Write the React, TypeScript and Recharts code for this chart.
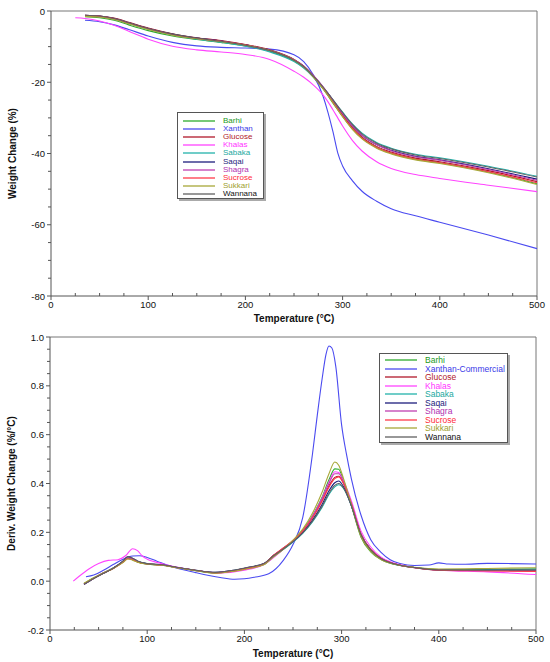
import React from "react";
import { LineChart, Line, XAxis, YAxis, Legend, ReferenceLine } from "recharts";

// ---- shared ----
const NAMES = ["Barhi", "Xanthan", "Glucose", "Khalas", "Sabaka", "Saqai", "Shagra", "Sucrose", "Sukkari", "Wannana"];
const DTG_NAMES = ["Barhi", "Xanthan-Commercial", "Glucose", "Khalas", "Sabaka", "Saqai", "Shagra", "Sucrose", "Sukkari", "Wannana"];
const COLORS = ["#2eaa2e", "#4a4af0", "#b0182a", "#ff44ff", "#22b2aa", "#1c1c7c", "#c040b0", "#ff3a4a", "#a8a838", "#606060"];
const TEXT_COLORS = ["#229922", "#3a3ae8", "#b0182a", "#ff33ff", "#1aa8a0", "#1c1c7c", "#b030b0", "#ff2a3a", "#a0a030", "#111111"];

const X_TICKS = [0, 25, 50, 75, 100, 125, 150, 175, 200, 225, 250, 275, 300, 325, 350, 375, 400, 425, 450, 475, 500];
const TGA_Y_TICKS = [-80, -75, -70, -65, -60, -55, -50, -45, -40, -35, -30, -25, -20, -15, -10, -5, 0];
const DTG_Y_TICKS = [-0.2, -0.15, -0.1, -0.05, 0, 0.05, 0.1, 0.15, 0.2, 0.25, 0.3, 0.35, 0.4, 0.45, 0.5, 0.55, 0.6, 0.65, 0.7, 0.75, 0.8, 0.85, 0.9, 0.95, 1.0];
const DTG_Y_MAJOR = [-0.2, 0, 0.2, 0.4, 0.6, 0.8, 1.0];

// ---- TGA (weight change, %) ----
const TGA_T = [25, 35, 50, 65, 80, 100, 125, 150, 175, 200, 225, 250, 260, 270, 280, 285, 290, 295, 300, 310, 320, 335, 350, 375, 400, 450, 500];
const TGA_BARHI = [null, -1.6, -1.9, -2.6, -3.9, -5.5, -7.0, -8.0, -8.8, -9.8, -11.3, -14.0, -15.9, -18.6, -21.9, -23.8, -25.8, -27.7, -29.6, -33.0, -35.7, -38.3, -39.9, -41.6, -42.6, -45.2, -48.5];
const TGA_XANTHAN = [null, -2.6, -3.0, -3.9, -5.2, -7.0, -8.8, -9.8, -10.2, -10.4, -10.7, -12.3, -14.2, -18.0, -24.0, -28.5, -33.8, -39.8, -43.5, -47.6, -50.6, -53.4, -55.5, -57.5, -59.3, -62.9, -66.7];
const TGA_GLUCOSE = [null, -1.2, -1.4, -2.0, -3.2, -4.8, -6.4, -7.5, -8.3, -9.4, -10.9, -13.6, -15.5, -18.3, -21.6, -23.5, -25.4, -27.3, -29.2, -32.7, -35.4, -38.0, -39.6, -41.3, -42.3, -44.8, -47.9];
const TGA_KHALAS = [-1.9, -2.1, -2.8, -4.0, -5.7, -7.9, -9.9, -10.9, -11.5, -12.2, -13.6, -16.9, -18.6, -20.8, -23.6, -25.5, -27.7, -30.0, -32.3, -36.3, -39.3, -42.3, -44.2, -45.9, -47.0, -48.9, -50.7];
const TGA_SABAKA = [null, -1.4, -1.6, -2.3, -3.5, -5.1, -6.7, -7.9, -8.8, -9.9, -11.5, -14.2, -16.0, -18.5, -21.5, -23.1, -24.9, -26.7, -28.4, -31.7, -34.3, -36.9, -38.5, -40.2, -41.2, -43.6, -46.4];
const TGA_SAQAI = [null, -1.2, -1.4, -2.1, -3.3, -4.9, -6.5, -7.6, -8.4, -9.5, -11.0, -13.7, -15.5, -18.2, -21.4, -23.2, -25.1, -27.0, -28.8, -32.2, -34.9, -37.5, -39.1, -40.8, -41.8, -44.3, -47.2];
const TGA_SHAGRA = [null, -1.3, -1.5, -2.2, -3.4, -5.0, -6.6, -7.7, -8.5, -9.6, -11.1, -13.7, -15.5, -18.1, -21.3, -23.1, -25.0, -26.9, -28.8, -32.2, -34.9, -37.5, -39.2, -40.9, -41.9, -44.5, -47.5];
const TGA_SUCROSE = [null, -1.3, -1.5, -2.2, -3.4, -5.0, -6.6, -7.7, -8.5, -9.5, -11.0, -13.7, -15.6, -18.4, -21.7, -23.6, -25.6, -27.6, -29.5, -33.0, -35.7, -38.3, -39.9, -41.6, -42.6, -45.1, -48.2];
const TGA_SUKKARI = [null, -1.5, -1.7, -2.4, -3.6, -5.2, -6.8, -7.8, -8.6, -9.6, -11.1, -13.8, -15.7, -18.5, -21.8, -23.7, -25.7, -27.7, -29.7, -33.2, -35.9, -38.5, -40.1, -41.8, -42.8, -45.4, -48.7];
const TGA_WANNANA = [null, -1.2, -1.4, -2.1, -3.3, -4.9, -6.5, -7.6, -8.5, -9.6, -11.1, -13.8, -15.6, -18.3, -21.4, -23.1, -24.9, -26.7, -28.5, -31.8, -34.5, -37.1, -38.7, -40.4, -41.4, -43.8, -46.6];
const TGA_SERIES = [TGA_BARHI, TGA_XANTHAN, TGA_GLUCOSE, TGA_KHALAS, TGA_SABAKA, TGA_SAQAI, TGA_SHAGRA, TGA_SUCROSE, TGA_SUKKARI, TGA_WANNANA];

// ---- DTG (deriv. weight change, %/°C) ----
const DTG_T = [35, 45, 55, 65, 75, 80, 85, 90, 100, 115, 130, 150, 170, 190, 205, 220, 230, 240, 250, 260, 270, 280, 287, 293, 297, 302, 310, 320, 330, 340, 355, 375, 400, 450, 500];
const DTG_BARHI = [-0.01, 0.014, 0.034, 0.054, 0.078, 0.094, 0.088, 0.079, 0.07, 0.065, 0.056, 0.043, 0.034, 0.042, 0.053, 0.068, 0.1, 0.13, 0.165, 0.208, 0.268, 0.345, 0.415, 0.46, 0.458, 0.41, 0.31, 0.18, 0.12, 0.09, 0.068, 0.056, 0.048, 0.048, 0.05];
const DTG_GLUCOSE = [-0.012, 0.012, 0.033, 0.052, 0.08, 0.097, 0.09, 0.08, 0.071, 0.066, 0.056, 0.044, 0.034, 0.043, 0.055, 0.07, 0.105, 0.135, 0.165, 0.205, 0.26, 0.33, 0.39, 0.425, 0.43, 0.4, 0.315, 0.19, 0.128, 0.094, 0.07, 0.056, 0.046, 0.044, 0.043];
const DTG_SABAKA = [-0.012, 0.012, 0.033, 0.054, 0.08, 0.098, 0.092, 0.082, 0.072, 0.066, 0.056, 0.044, 0.035, 0.045, 0.057, 0.071, 0.103, 0.13, 0.16, 0.196, 0.243, 0.303, 0.355, 0.386, 0.395, 0.38, 0.31, 0.19, 0.128, 0.093, 0.069, 0.055, 0.046, 0.047, 0.05];
const DTG_SAQAI = [-0.014, 0.011, 0.032, 0.053, 0.082, 0.1, 0.093, 0.082, 0.072, 0.067, 0.057, 0.045, 0.036, 0.045, 0.057, 0.072, 0.105, 0.133, 0.163, 0.2, 0.25, 0.315, 0.37, 0.403, 0.41, 0.387, 0.31, 0.19, 0.128, 0.094, 0.07, 0.056, 0.046, 0.044, 0.044];
const DTG_SHAGRA = [-0.012, 0.012, 0.033, 0.053, 0.079, 0.096, 0.09, 0.08, 0.071, 0.066, 0.056, 0.044, 0.034, 0.043, 0.055, 0.07, 0.105, 0.135, 0.165, 0.206, 0.264, 0.338, 0.4, 0.44, 0.44, 0.405, 0.318, 0.19, 0.128, 0.094, 0.07, 0.055, 0.046, 0.043, 0.042];
const DTG_SUCROSE = [-0.011, 0.012, 0.033, 0.052, 0.077, 0.092, 0.088, 0.079, 0.07, 0.066, 0.056, 0.044, 0.034, 0.042, 0.054, 0.07, 0.106, 0.136, 0.167, 0.206, 0.26, 0.328, 0.385, 0.42, 0.427, 0.4, 0.318, 0.192, 0.13, 0.095, 0.07, 0.055, 0.045, 0.042, 0.04];
const DTG_SUKKARI = [-0.008, 0.014, 0.033, 0.052, 0.076, 0.091, 0.086, 0.078, 0.07, 0.065, 0.055, 0.043, 0.033, 0.041, 0.052, 0.067, 0.1, 0.13, 0.168, 0.213, 0.278, 0.365, 0.44, 0.488, 0.475, 0.42, 0.315, 0.182, 0.122, 0.09, 0.069, 0.057, 0.05, 0.052, 0.055];
const DTG_WANNANA = [-0.013, 0.011, 0.032, 0.053, 0.082, 0.101, 0.094, 0.083, 0.072, 0.067, 0.057, 0.045, 0.036, 0.046, 0.058, 0.072, 0.104, 0.132, 0.162, 0.198, 0.246, 0.308, 0.36, 0.392, 0.4, 0.382, 0.31, 0.19, 0.128, 0.094, 0.07, 0.056, 0.046, 0.045, 0.046];

const XAN_T = [37, 45, 55, 65, 75, 85, 92, 100, 110, 125, 150, 175, 190, 200, 210, 225, 240, 250, 260, 270, 275, 280, 284, 287, 290, 294, 300, 305, 310, 320, 330, 340, 350, 360, 375, 390, 400, 410, 425, 450, 475, 500];
const DTG_XANTHAN = [0.018, 0.025, 0.045, 0.068, 0.09, 0.103, 0.104, 0.097, 0.082, 0.06, 0.035, 0.015, 0.008, 0.01, 0.016, 0.03, 0.085, 0.15, 0.26, 0.52, 0.68, 0.83, 0.93, 0.963, 0.955, 0.88, 0.64, 0.52, 0.42, 0.27, 0.17, 0.12, 0.088, 0.072, 0.064, 0.066, 0.075, 0.07, 0.069, 0.073, 0.072, 0.07];

const KHA_T = [24, 30, 40, 50, 60, 70, 78, 85, 90, 95, 100, 110, 125, 150, 175, 200, 220, 240, 250, 260, 270, 280, 287, 293, 297, 302, 310, 320, 330, 340, 355, 375, 400, 450, 500];
const DTG_KHALAS = [0.0, 0.02, 0.05, 0.072, 0.085, 0.088, 0.105, 0.133, 0.125, 0.103, 0.09, 0.077, 0.062, 0.044, 0.034, 0.045, 0.068, 0.13, 0.165, 0.205, 0.265, 0.34, 0.405, 0.448, 0.445, 0.41, 0.33, 0.205, 0.14, 0.1, 0.073, 0.056, 0.045, 0.038, 0.027];

const DTG_SERIES: [number[], number[]][] = [
  [DTG_T, DTG_BARHI],
  [XAN_T, DTG_XANTHAN],
  [DTG_T, DTG_GLUCOSE],
  [KHA_T, DTG_KHALAS],
  [DTG_T, DTG_SABAKA],
  [DTG_T, DTG_SAQAI],
  [DTG_T, DTG_SHAGRA],
  [DTG_T, DTG_SUCROSE],
  [DTG_T, DTG_SUKKARI],
  [DTG_T, DTG_WANNANA],
];

const tgaRows = TGA_T.map((t, i) => {
  const row: Record<string, number | null> = { T: t };
  NAMES.forEach((n, k) => (row[n] = TGA_SERIES[k][i]));
  return row;
});

const FONT = "'Liberation Sans', Arial, Helvetica, sans-serif";
const AXIS = "#555";

function XTick(props: any) {
  const { x, y, payload } = props;
  const major = payload.value % 100 === 0;
  return (
    <g>
      <line x1={x} x2={x} y1={y} y2={major ? y + 4 : y - 3} stroke={AXIS} />
      {major && (
        <text x={x} y={y + 12} textAnchor="middle" fontFamily={FONT} fontSize={9.5} fill="#111">
          {payload.value}
        </text>
      )}
    </g>
  );
}

const makeYTick = (isMajor: (v: number) => boolean, fmt: (v: number) => string) =>
  function YTick(props: any) {
    const { x, y, payload } = props;
    const major = isMajor(payload.value);
    return (
      <g>
        <line x1={x} x2={x - (major ? 4 : 3)} y1={y} y2={y} stroke={AXIS} />
        {major && (
          <text x={x - 6} y={y + 3.5} textAnchor="end" fontFamily={FONT} fontSize={9.5} fill="#111">
            {fmt(payload.value)}
          </text>
        )}
      </g>
    );
  };

const TgaYTick = makeYTick((v) => v % 20 === 0, (v) => String(v));
const DtgYTick = makeYTick((v) => DTG_Y_MAJOR.includes(v), (v) => v.toFixed(1));

function BoxLegend({ names, width, height, rowH, fontSize, padTop }: any) {
  return (
    <div
      style={{
        width,
        height,
        boxSizing: "border-box",
        border: "1px solid #555",
        background: "#fff",
        boxShadow: "2px 2px 0 #aaa",
        paddingTop: padTop,
        fontFamily: FONT,
        fontSize,
      }}
    >
      {names.map((n: string, i: number) => (
        <div key={n} style={{ display: "flex", alignItems: "center", height: rowH, whiteSpace: "nowrap" }}>
          <svg width={32} height={4} style={{ flex: "none", marginLeft: 5, marginRight: 8, display: "block" }}>
            <line x1={0} x2={32} y1={2} y2={2} stroke={COLORS[i]} strokeWidth={1.3} />
          </svg>
          <span style={{ color: TEXT_COLORS[i], lineHeight: 1 }}>{n}</span>
        </div>
      ))}
    </div>
  );
}

const titleStyle = { fontFamily: FONT, fontSize: 10, fontWeight: 700, fill: "#111" };

export default function App() {
  return (
    <div style={{ position: "absolute", left: 0, top: 0, width: 550, height: 662, background: "#fff" }}>
      <LineChart width={550} height={325} data={tgaRows} margin={{ top: 11, right: 13, bottom: 3, left: 6 }}>
        <XAxis
          dataKey="T"
          type="number"
          domain={[0, 500]}
          ticks={X_TICKS}
          interval={0}
          tick={<XTick />}
          tickLine={false}
          tickSize={0}
          tickMargin={0}
          height={26}
          axisLine={{ stroke: AXIS }}
          label={{ value: "Temperature (°C)", position: "insideBottom", offset: 0, ...titleStyle }}
        />
        <YAxis
          type="number"
          domain={[-80, 0]}
          ticks={TGA_Y_TICKS}
          interval={0}
          tick={<TgaYTick />}
          tickLine={false}
          tickSize={0}
          tickMargin={0}
          width={45}
          axisLine={{ stroke: AXIS }}
          label={{ value: "Weight Change (%)", angle: -90, position: "insideLeft", offset: 6, ...titleStyle, style: { textAnchor: "middle" } }}
        />
        <ReferenceLine y={0} stroke="#777" />
        <ReferenceLine x={500} stroke="#777" />
        <Legend
          layout="vertical"
          align="center"
          verticalAlign="middle"
          wrapperStyle={{ left: 177, top: 112, width: 87, height: 87 }}
          content={() => <BoxLegend names={NAMES} width={87} height={87} rowH={8.1} fontSize={8} padTop={4} />}
        />
        {NAMES.map((n, k) => (
          <Line
            key={n}
            dataKey={n}
            name={n}
            type="monotone"
            stroke={COLORS[k]}
            strokeWidth={1.1}
            dot={false}
            activeDot={false}
            isAnimationActive={false}
          />
        ))}
      </LineChart>
      <LineChart width={550} height={337} margin={{ top: 12, right: 14, bottom: 5, left: 5 }}>
        <XAxis
          dataKey="T"
          type="number"
          domain={[0, 500]}
          ticks={X_TICKS}
          interval={0}
          tick={<XTick />}
          tickLine={false}
          tickSize={0}
          tickMargin={0}
          height={27}
          axisLine={{ stroke: AXIS }}
          label={{ value: "Temperature (°C)", position: "insideBottom", offset: 0, ...titleStyle }}
        />
        <YAxis
          type="number"
          domain={[-0.2, 1.0]}
          ticks={DTG_Y_TICKS}
          interval={0}
          tick={<DtgYTick />}
          tickLine={false}
          tickSize={0}
          tickMargin={0}
          width={45}
          axisLine={{ stroke: AXIS }}
          label={{ value: "Deriv. Weight Change (%/°C)", angle: -90, position: "insideLeft", offset: 6, ...titleStyle, style: { textAnchor: "middle" } }}
        />
        <ReferenceLine y={1.0} stroke="#777" />
        <ReferenceLine x={500} stroke="#777" />
        <Legend
          layout="vertical"
          align="center"
          verticalAlign="middle"
          wrapperStyle={{ left: 379, top: 28, width: 129, height: 90 }}
          content={() => <BoxLegend names={DTG_NAMES} width={129} height={90} rowH={8.5} fontSize={8.5} padTop={2} />}
        />
        {DTG_NAMES.map((n, k) => (
          <Line
            key={n}
            data={DTG_SERIES[k][0].map((t, i) => ({ T: t, v: DTG_SERIES[k][1][i] }))}
            dataKey="v"
            name={n}
            type="monotone"
            stroke={COLORS[k]}
            strokeWidth={1.1}
            dot={false}
            activeDot={false}
            isAnimationActive={false}
          />
        ))}
      </LineChart>
    </div>
  );
}
